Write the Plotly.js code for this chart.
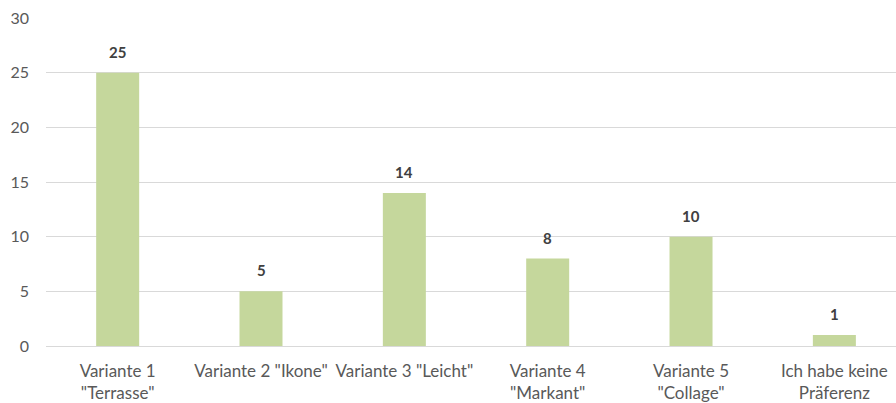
<!DOCTYPE html>
<html><head><meta charset="utf-8">
<script src="https://cdn.plot.ly/plotly-3.0.1.min.js"></script>
<style>html,body{margin:0;padding:0;overflow:hidden;background:#fff}</style>
</head><body><div id="chart" style="width:896px;height:403px"></div>
<script>
const categories = ['Variante 1<br>"Terrasse"', 'Variante 2 "Ikone"', 'Variante 3 "Leicht"', 'Variante 4<br>"Markant"', 'Variante 5<br>"Collage"', 'Ich habe keine<br>Präferenz'];
const values = [25, 5, 14, 8, 10, 1];
const yTicks = [0, 5, 10, 15, 20, 25, 30];

const idx = categories.map((_, i) => i);
const trace = {
  type: 'bar', x: idx, y: values, width: 0.3,
  marker: {color: '#c5d79c', line: {width: 0}},
  hoverinfo: 'none'
};
const annotations = values.map((v, i) => ({
  x: i, y: v, xref: 'x', yref: 'y', text: '<b>' + v + '</b>',
  showarrow: false, yanchor: 'bottom', yshift: 10,
  font: {family: 'Lato, Open Sans, sans-serif', size: 15, color: '#404040'}
}));
const layout = {
  width: 896, height: 403,
  margin: {l: 46, r: 0, t: 18, b: 57},
  paper_bgcolor: '#fff', plot_bgcolor: '#fff',
  showlegend: false,
  font: {family: 'Lato, Open Sans, sans-serif', size: 16, color: '#595959'},
  xaxis: {
    range: [-0.5, 5.43], tickvals: idx, ticktext: categories,
    showgrid: false, zeroline: false, showline: false, ticks: '',
    ticklabelstandoff: 13,
    tickfont: {size: 17, color: '#595959'}, fixedrange: true
  },
  yaxis: {
    range: [0, 30], tickvals: yTicks, showgrid: true, gridcolor: '#d9d9d9', gridwidth: 1,
    zeroline: true, zerolinecolor: '#d9d9d9', zerolinewidth: 1,
    showline: false, ticks: '', ticklabelstandoff: 16,
    tickfont: {size: 16, color: '#595959'}, fixedrange: true
  },
  annotations: annotations
};
Plotly.newPlot('chart', [trace], layout, {displayModeBar: false, staticPlot: true});
</script></body></html>
